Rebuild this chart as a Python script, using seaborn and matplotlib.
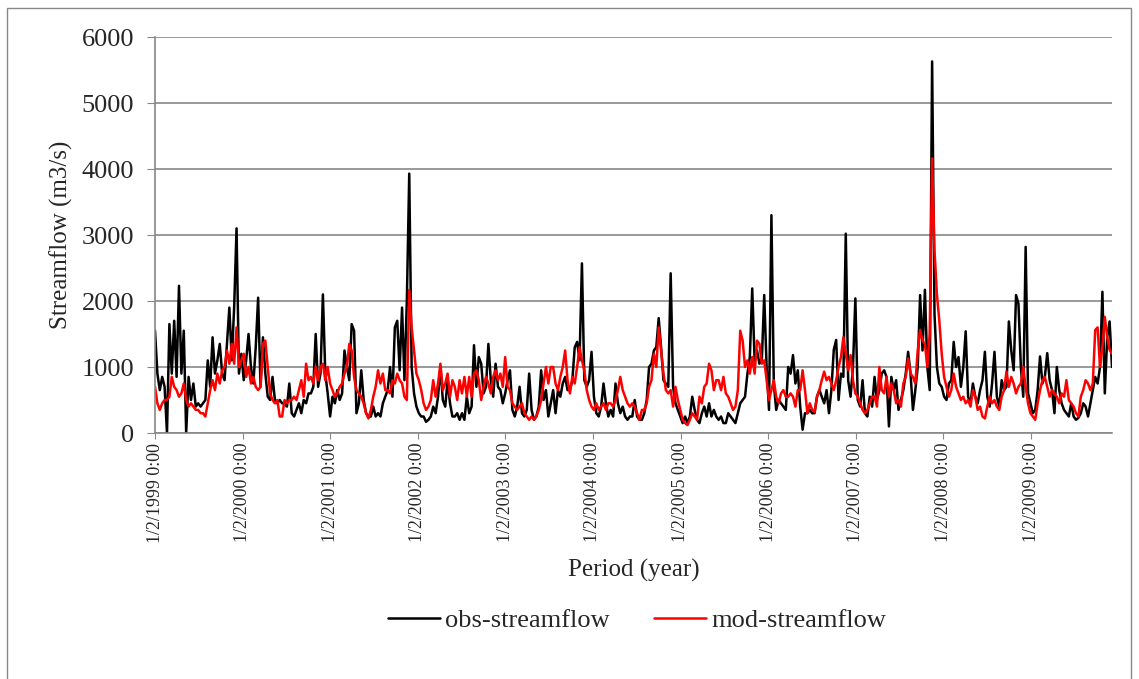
import pandas as pd
import matplotlib
matplotlib.use('Agg')
import matplotlib.pyplot as plt
from matplotlib.patches import Rectangle
import seaborn as sns

# Streamflow, one value every 10 days from 1/2/1999
start_date = '1999-01-02'
obs_flow = [
    1550, 900, 650, 850, 700, 0, 1650, 900, 1700, 850,
    2230, 900, 1550, 0, 850, 500, 750, 400, 450, 400,
    450, 500, 1100, 700, 1450, 900, 1100, 1350, 900, 800,
    1350, 1900, 1100, 1900, 3100, 900, 1200, 800, 1100, 1500,
    1000, 750, 1300, 2050, 700, 1450, 900, 550, 500, 850,
    500, 450, 500, 450, 450, 400, 750, 300, 250, 350,
    450, 300, 500, 450, 600, 600, 700, 1500, 700, 900,
    2100, 900, 600, 250, 550, 450, 650, 500, 600, 1250,
    1000, 800, 1650, 1550, 300, 450, 950, 500, 300, 250,
    250, 400, 250, 300, 250, 450, 550, 650, 1000, 550,
    1600, 1700, 950, 1900, 800, 2000, 3930, 1000, 600, 400,
    300, 250, 250, 170, 200, 250, 400, 300, 550, 1000,
    500, 400, 800, 450, 250, 250, 300, 200, 300, 200,
    550, 300, 400, 1330, 700, 1150, 1050, 600, 700, 1350,
    800, 550, 1050, 700, 650, 450, 600, 800, 950, 350,
    250, 400, 700, 300, 250, 350, 900, 350, 200, 250,
    400, 950, 500, 650, 250, 450, 650, 300, 650, 550,
    750, 850, 650, 650, 800, 1300, 1380, 1100, 2570, 800,
    700, 800, 1230, 550, 300, 250, 400, 750, 450, 250,
    350, 250, 750, 450, 300, 400, 250, 200, 250, 250,
    500, 250, 200, 200, 300, 500, 1000, 1050, 1250, 1300,
    1740, 1300, 800, 750, 700, 2420, 700, 450, 350, 250,
    150, 250, 150, 250, 550, 350, 200, 150, 300, 400,
    250, 450, 250, 350, 250, 200, 250, 150, 150, 300,
    250, 200, 150, 300, 450, 500, 550, 900, 1150, 2190,
    1100, 1250, 1050, 1100, 2090, 1000, 350, 3300, 750, 350,
    500, 450, 400, 350, 1000, 900, 1180, 750, 950, 400,
    50, 300, 300, 350, 300, 300, 550, 650, 550, 450,
    650, 300, 650, 1260, 1410, 500, 900, 850, 3020, 800,
    550, 1000, 2040, 500, 400, 800, 300, 250, 550, 400,
    850, 500, 650, 900, 950, 850, 100, 850, 650, 800,
    350, 500, 650, 900, 1230, 900, 350, 650, 1000, 2090,
    1250, 2170, 1000, 650, 5630, 1800, 1000, 750, 700, 550,
    500, 750, 800, 1380, 1000, 1150, 700, 1000, 1540, 550,
    450, 750, 550, 450, 650, 800, 1230, 550, 400, 750,
    1230, 550, 400, 800, 650, 700, 1690, 1250, 950, 2090,
    1960, 1000, 550, 2820, 600, 450, 300, 350, 650, 1160,
    750, 850, 1210, 800, 650, 300, 1000, 650, 450, 350,
    300, 250, 450, 250, 200, 230, 300, 450, 400, 250,
    450, 650, 850, 750, 1000, 2140, 600, 1450, 1690, 1000,
]
mod_flow = [
    700, 450, 350, 450, 500, 500, 550, 850, 700, 650,
    550, 600, 750, 500, 400, 450, 400, 350, 350, 300,
    300, 250, 450, 650, 800, 650, 900, 750, 950, 1000,
    1250, 1050, 1350, 1050, 1600, 1000, 1100, 1200, 850, 1000,
    750, 850, 700, 650, 700, 1350, 1400, 1000, 600, 500,
    450, 500, 250, 250, 500, 450, 500, 500, 550, 500,
    650, 800, 550, 1050, 800, 850, 750, 1000, 800, 1000,
    1050, 800, 1000, 750, 650, 550, 600, 700, 750, 900,
    1000, 1350, 1250, 850, 650, 600, 550, 450, 300, 220,
    350, 550, 700, 950, 750, 900, 650, 650, 600, 800,
    750, 900, 800, 750, 550, 500, 2170, 1600, 1250, 900,
    800, 650, 450, 350, 400, 500, 800, 550, 750, 1050,
    650, 750, 900, 550, 800, 700, 500, 800, 600, 850,
    550, 850, 550, 900, 950, 800, 500, 700, 850, 750,
    600, 850, 950, 800, 900, 700, 1150, 700, 650, 450,
    400, 350, 400, 450, 300, 250, 200, 250, 200, 250,
    350, 500, 750, 1000, 750, 1000, 1000, 750, 650, 850,
    1000, 1250, 800, 600, 850, 750, 1000, 1300, 1100, 950,
    650, 500, 400, 350, 450, 350, 400, 450, 350, 450,
    450, 400, 500, 650, 850, 650, 550, 450, 400, 450,
    400, 300, 200, 350, 350, 450, 700, 800, 1200, 1000,
    1600, 1250, 900, 650, 600, 650, 400, 700, 500, 350,
    200, 150, 120, 200, 300, 250, 200, 550, 450, 700,
    750, 1050, 950, 650, 800, 800, 650, 850, 600, 550,
    450, 350, 400, 650, 1550, 1400, 1000, 1100, 900, 1150,
    900, 1400, 1350, 1050, 1100, 800, 500, 650, 800, 550,
    450, 600, 650, 550, 550, 600, 550, 400, 650, 650,
    950, 650, 300, 450, 350, 320, 550, 650, 800, 930,
    800, 850, 750, 650, 800, 1000, 1150, 1450, 1200, 950,
    1180, 800, 600, 550, 450, 350, 300, 350, 450, 550,
    550, 400, 1000, 650, 600, 850, 550, 750, 650, 450,
    500, 400, 750, 850, 1130, 900, 850, 750, 1250, 1560,
    1400, 1350, 1000, 1500, 4160, 2770, 2100, 1700, 1200, 850,
    700, 550, 650, 900, 700, 600, 500, 550, 450, 500,
    400, 650, 550, 350, 400, 250, 220, 400, 550, 450,
    500, 400, 350, 550, 650, 930, 700, 850, 750, 600,
    700, 750, 1000, 700, 450, 300, 250, 200, 450, 650,
    800, 850, 700, 550, 650, 600, 550, 450, 600, 550,
    800, 500, 450, 400, 300, 250, 550, 650, 800, 750,
    650, 750, 1560, 1600, 1000, 1300, 1760, 1450, 1260, 1200,
]

tick_dates = ['1999-01-02', '2000-01-02', '2001-01-02', '2002-01-02',
              '2003-01-02', '2004-01-02', '2005-01-02', '2006-01-02',
              '2007-01-02', '2008-01-02', '2009-01-02']
tick_labels = ['1/2/1999 0:00', '1/2/2000 0:00', '1/2/2001 0:00',
               '1/2/2002 0:00', '1/2/2003 0:00', '1/2/2004 0:00',
               '1/2/2005 0:00', '1/2/2006 0:00', '1/2/2007 0:00',
               '1/2/2008 0:00', '1/2/2009 0:00']

dates = pd.date_range(start_date, periods=len(obs_flow), freq='10D')
data = pd.DataFrame({'Date': dates,
                     'obs-streamflow': obs_flow,
                     'mod-streamflow': mod_flow})
data = data.melt(id_vars='Date', var_name='Series', value_name='Flow')

sns.set_style('white')
plt.rcParams['font.family'] = ['Liberation Serif', 'DejaVu Serif']

grid_gray = '#888888'

fig = plt.figure(figsize=(11.39, 6.79), dpi=100)
ax = fig.add_axes([155 / 1139, 1 - 433 / 679, 957 / 1139, 396 / 679])

sns.lineplot(data=data, x='Date', y='Flow', hue='Series',
             palette={'obs-streamflow': 'black', 'mod-streamflow': 'red'},
             linewidth=1.8, legend=False, ax=ax)

ax.set_xlim(dates[0], dates[-1])
ax.set_ylim(0, 6000)
ax.set_yticks(range(0, 6001, 1000))
ax.set_xticks(pd.to_datetime(tick_dates))
ax.set_xticklabels(tick_labels, rotation=90, fontsize=12.9)
ax.tick_params(axis='y', labelsize=19, length=6, color=grid_gray, pad=9, direction='out', left=True)
ax.tick_params(axis='x', length=4, color=grid_gray, pad=3, direction='out', bottom=True)
ax.grid(axis='y', color=grid_gray, linewidth=1.2)
ax.grid(axis='x', visible=False)
for side in ['top', 'right']:
    ax.spines[side].set_visible(False)
for side in ['left', 'bottom']:
    ax.spines[side].set_color(grid_gray)
    ax.spines[side].set_linewidth(1.2)

ax.set_xlabel('Period (year)', fontsize=18, labelpad=12)
ax.set_ylabel('Streamflow (m3/s)', fontsize=18, labelpad=6)

fig.legend(handles=ax.lines[:2], labels=['obs-streamflow', 'mod-streamflow'],
           loc='center', bbox_to_anchor=(637 / 1139, 1 - 620 / 679),
           ncol=2, frameon=False, fontsize=19, handlelength=1.97,
           handletextpad=0.2, columnspacing=1.7)

# chart area border
fig.patches.append(Rectangle((7 / 1139, -0.05), 1124 / 1139, 1 - 8 / 679 + 0.05,
                             transform=fig.transFigure, fill=False,
                             edgecolor=grid_gray, linewidth=1.0))

fig.savefig('out.png', dpi=100)
